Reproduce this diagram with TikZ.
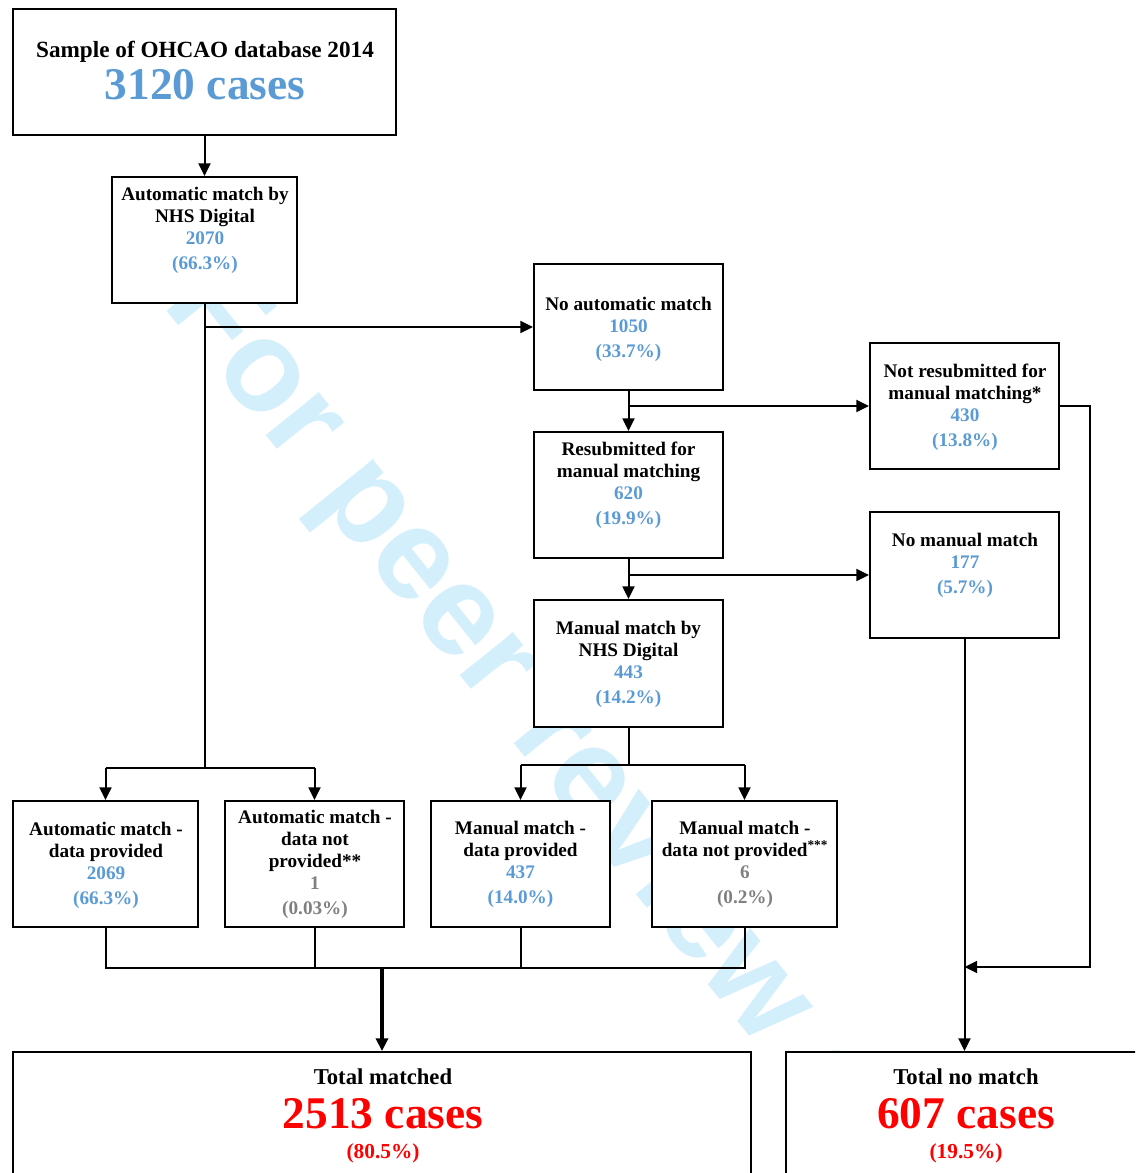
\documentclass[tikz,border=0pt]{standalone}
\usepackage{fontspec}
\setmainfont{Liberation Serif}
\newfontfamily\wmfont{Liberation Sans}
\usetikzlibrary{arrows.meta}
\definecolor{nblue}{RGB}{91,155,213}
\definecolor{ngray}{RGB}{128,128,128}
\definecolor{nred}{RGB}{255,0,0}
\definecolor{wmblue}{RGB}{212,239,252}
\newcommand{\bl}[1]{\textcolor{nblue}{#1}}
\newcommand{\gr}[1]{\textcolor{ngray}{#1}}
\begin{document}
\begin{tikzpicture}[x=0.75pt,y=-0.75pt,
 pbox/.style 2 args={draw, fill=white, line width=1.5pt, inner sep=0pt, minimum width=#1*0.75pt, minimum height=#2*0.75pt},
 txt/.style={align=center, inner sep=0pt, font=\bfseries\fontsize{14.4}{16.5}\selectfont},
 big/.style={inner sep=0pt, anchor=base},
 conn/.style={line width=1.5pt},
 arr/.style={conn, -{Triangle[length=9.5pt,width=9pt]}},
 wm/.style={text=wmblue, font=\wmfont\bfseries\fontsize{97}{97}\selectfont, rotate=-51.2, inner sep=0pt}
]
\useasboundingbox (0,0) rectangle (1135,1173);
\clip (0,0) rectangle (1135,1173);

% watermark
\node[wm] (wm) at (582,774) {For peer review only};

% boxes
\node[pbox={383}{126}] (A) at (204.5,72) {};
\node[big, font=\bfseries\fontsize{17.4}{20}\selectfont] (At) at (205,57.5) {Sample of OHCAO database 2014};
\node[big, font=\bfseries\fontsize{34}{36}\selectfont, text=nblue] (An) at (205,100) {3120 cases};

\node[pbox={185}{126}] (B) at (204.5,240) {};
\node[txt] (Bt) at (205,230.5) {Automatic match by\\NHS Digital\\\bl{2070}\\[2.2pt]\bl{(66.3\%)}};

\node[pbox={189}{126}] (C) at (628.5,327) {};
\node[txt] (Ct) at (628.5,329) {No automatic match\\\bl{1050}\\[2.2pt]\bl{(33.7\%)}};

\node[pbox={189}{126}] (E) at (964.5,406) {};
\node[txt] (Et) at (965,407.5) {Not resubmitted for\\manual matching*\\\bl{430}\\[2.2pt]\bl{(13.8\%)}};

\node[pbox={189}{126}] (D) at (628.5,495) {};
\node[txt] (Dt) at (628.5,485.5) {Resubmitted for\\manual matching\\\bl{620}\\[2.2pt]\bl{(19.9\%)}};

\node[pbox={189}{126}] (G) at (964.5,575) {};
\node[txt] (Gt) at (965,565) {No manual match\\\bl{177}\\[2.2pt]\bl{(5.7\%)}};

\node[pbox={189}{127}] (F) at (628.5,663.5) {};
\node[txt] (Ft) at (628.5,664.5) {Manual match by\\NHS Digital\\\bl{443}\\[2.2pt]\bl{(14.2\%)}};

\node[pbox={185}{126}] (H1) at (105.5,864) {};
\node[txt] (H1t) at (106,865.5) {Automatic match -\\data provided\\\bl{2069}\\[2.2pt]\bl{(66.3\%)}};

\node[pbox={179}{126}] (H2) at (314.5,864) {};
\node[txt] (H2t) at (315,864.5) {Automatic match -\\data not\\provided**\\\gr{1}\\[2.2pt]\gr{(0.03\%)}};

\node[pbox={179}{126}] (H3) at (520.5,864) {};
\node[txt] (H3t) at (520.5,864.5) {Manual match -\\data provided\\\bl{437}\\[2.2pt]\bl{(14.0\%)}};

\node[pbox={185}{126}] (H4) at (744.5,864) {};
\node[txt] (H4t) at (745,864.5) {Manual match -\\data not provided\textsuperscript{***}\\\gr{6}\\[2.2pt]\gr{(0.2\%)}};

\node[pbox={738}{160}] (TM) at (382,1132) {};
\node[big, font=\bfseries\fontsize{17}{20}\selectfont] (TMa) at (383,1084) {Total matched};
\node[big, font=\bfseries\fontsize{34}{36}\selectfont, text=nred] (TMb) at (383,1128) {2513 cases};
\node[big, font=\bfseries\fontsize{16}{19}\selectfont, text=nred] (TMc) at (383,1158) {(80.5\%)};

\node[pbox={370}{160}] (TN) at (971,1132) {};
\node[big, font=\bfseries\fontsize{17}{20}\selectfont] (TNa) at (966,1084) {Total no match};
\node[big, font=\bfseries\fontsize{34}{36}\selectfont, text=nred] (TNb) at (966,1128) {607 cases};
\node[big, font=\bfseries\fontsize{16}{19}\selectfont, text=nred] (TNc) at (966,1158) {(19.5\%)};

% connectors
\draw[arr] (A.south) -- (B.north);
\coordinate (j1) at (204.5,768);
\draw[conn] (B.south) -- (j1);
\draw[arr] (B.south |- C.west) -- (C.west);
\draw[conn] (H1.north |- j1) -- (H2.north |- j1);
\draw[arr] (H1.north |- j1) -- (H1.north);
\draw[arr] (H2.north |- j1) -- (H2.north);

\draw[arr] (C.south) -- (D.north);
\draw[arr] (C.south |- E.west) -- (E.west);
\draw[arr] (D.south) -- (F.north);
\draw[arr] (D.south |- G.west) -- (G.west);

\coordinate (j2) at (628.5,765);
\draw[conn] (F.south) -- (j2);
\draw[conn] (H3.north |- j2) -- (H4.north |- j2);
\draw[arr] (H3.north |- j2) -- (H3.north);
\draw[arr] (H4.north |- j2) -- (H4.north);

\coordinate (j3) at (382,968);
\draw[conn] (H1.south) -- (H1.south |- j3) -- (H4.south |- j3) -- (H4.south);
\draw[conn] (H2.south) -- (H2.south |- j3);
\draw[conn] (H3.south) -- (H3.south |- j3);
\draw[arr, line width=2.4pt] (j3) -- (TM.north);

\draw[arr] (G.south) -- (G.south |- TN.north);
\coordinate (j4) at (964.5,967);
\draw[arr] (E.east) -- ++(30,0) |- (j4);
\end{tikzpicture}
\end{document}
